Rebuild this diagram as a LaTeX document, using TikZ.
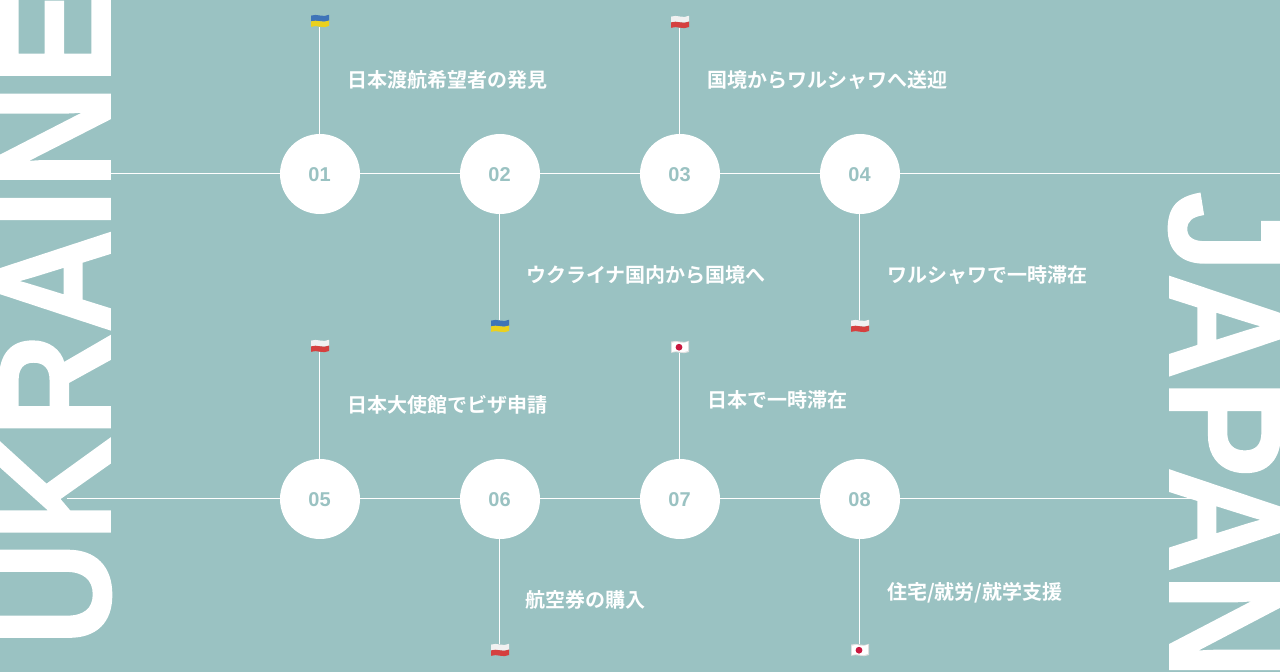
\documentclass[tikz,border=0pt]{standalone}
\usepackage{fontspec}
\setmainfont{Liberation Sans}
\newfontfamily\jp{Noto Sans CJK JP}[BoldFont={* Bold}]
\newfontfamily\bigface{Liberation Sans Bold}[FakeBold=1]
\definecolor{bgc}{HTML}{9AC2C2}
\definecolor{uab}{HTML}{3F74B8}
\definecolor{uay}{HTML}{EBD11E}
\definecolor{plr}{HTML}{D5403F}
\definecolor{jpr}{HTML}{C9183F}
\definecolor{flagw}{HTML}{F1F1F1}
\newcommand{\wave}[5]{%
  \fill[#5] (#1,#2) .. controls (#1+6,#2-2.4) and (#3-6,#2+2.4) .. (#3,#2-0.8) -- (#3,#4-0.8) .. controls (#3-6,#4+2.4) and (#1+6,#4-2.4) .. (#1,#4) -- cycle;}
\tikzset{
 x=1pt,y=-1pt,
 wire/.style={draw=white,line width=1pt},
 stepdisc/.style={circle,fill=white,minimum size=80pt,inner sep=0pt,text=bgc,font=\bfseries\fontsize{20}{20}\selectfont},
 lab/.style={anchor=west,text=white,inner sep=0pt,font=\jp\bfseries\fontsize{20}{24}\selectfont},
 flagbox/.style={minimum width=18pt,minimum height=12pt,inner sep=0pt},
 huge/.style={text=white,inner sep=0pt,font=\bigface\fontsize{160}{160}\selectfont},
}
\newcommand{\flagua}[1]{\begin{scope}[shift={(#1.center)}]\wave{-8.5}{-5.4}{9.5}{0.4}{uab}\wave{-8.5}{0.4}{9.5}{5.8}{uay}\end{scope}}
\newcommand{\flagpl}[1]{\begin{scope}[shift={(#1.center)}]\wave{-8.5}{-5.4}{9.5}{0.4}{flagw}\wave{-8.5}{0.4}{9.5}{5.8}{plr}\end{scope}}
\newcommand{\flagjp}[1]{\begin{scope}[shift={(#1.center)}]\wave{-8.5}{-5.4}{9.5}{5.8}{flagw!85!gray}\wave{-7.3}{-4.4}{8.3}{4.8}{white}\fill[jpr] (-0.5,0.2) circle (3.4);\end{scope}}
\begin{document}
\begin{tikzpicture}
\useasboundingbox (0,0) rectangle (1280,672);
\clip (0,0) rectangle (1280,672);
\fill[bgc] (0,0) rectangle (1280,672);
\node[huge,rotate=90,anchor=base west] (ua) at (110,646) {\scalebox{0.902}[1]{UKRAINE}};
\node[huge,rotate=-90,anchor=base west] (ja) at (1170,191) {\scalebox{0.92}[1]{JAPAN}};
\coordinate (a1) at (110,173);
\coordinate (a2) at (1280,173);
\coordinate (b1) at (67,498);
\coordinate (b2) at (1192,498);
\foreach \n/\x/\y in {01/320/174,02/500/174,03/680/174,04/860/174,05/320/499,06/500/499,07/680/499,08/860/499}
  \node[stepdisc] (s\n) at (\x,\y) {\hspace{-1pt}\raisebox{0pt}[15.5pt][0pt]{\n}};
\node[flagbox] (f1) at (319.5,21) {};
\node[flagbox] (f2) at (499.5,326) {};
\node[flagbox] (f3) at (679.5,22) {};
\node[flagbox] (f4) at (859.5,326) {};
\node[flagbox] (f5) at (319.5,346) {};
\node[flagbox] (f6) at (499.5,650) {};
\node[flagbox] (f7) at (679.5,347) {};
\node[flagbox] (f8) at (859.5,650) {};
\draw[wire] (a1) -- (s01.180|-a1) (s01.0|-a1) -- (s02.180|-a1) (s02.0|-a1) -- (s03.180|-a1) (s03.0|-a1) -- (s04.180|-a1) (s04.0|-a1) -- (a2);
\draw[wire] (b1) -- (s05.180|-b1) (s05.0|-b1) -- (s06.180|-b1) (s06.0|-b1) -- (s07.180|-b1) (s07.0|-b1) -- (s08.180|-b1) (s08.0|-b1) -- (b2);
\draw[wire] (f1) -- (f1|-s01);
\draw[wire] (f2) -- (f2|-s02);
\draw[wire] (f3) -- (f3|-s03);
\draw[wire] (f4) -- (f4|-s04);
\draw[wire] (f5) -- (f5|-s05);
\draw[wire] (f6) -- (f6|-s06);
\draw[wire] (f7) -- (f7|-s07);
\draw[wire] (f8) -- (f8|-s08);
\flagua{f1}\flagua{f2}\flagpl{f3}\flagpl{f4}\flagpl{f5}\flagpl{f6}\flagjp{f7}\flagjp{f8}
\node[lab] (t1) at (347,80) {日本渡航希望者の発見};
\node[lab] (t2) at (526,275) {ウクライナ国内から国境へ};
\node[lab] (t3) at (707,80) {国境からワルシャワへ送迎};
\node[lab] (t4) at (887,275) {ワルシャワで一時滞在};
\node[lab] (t5) at (347,405) {日本大使館でビザ申請};
\node[lab] (t6) at (525,600) {航空券の購入};
\node[lab] (t7) at (707,400) {日本で一時滞在};
\node[lab] (t8) at (887,593) {住宅/就労/就学支援};
\end{tikzpicture}
\end{document}
